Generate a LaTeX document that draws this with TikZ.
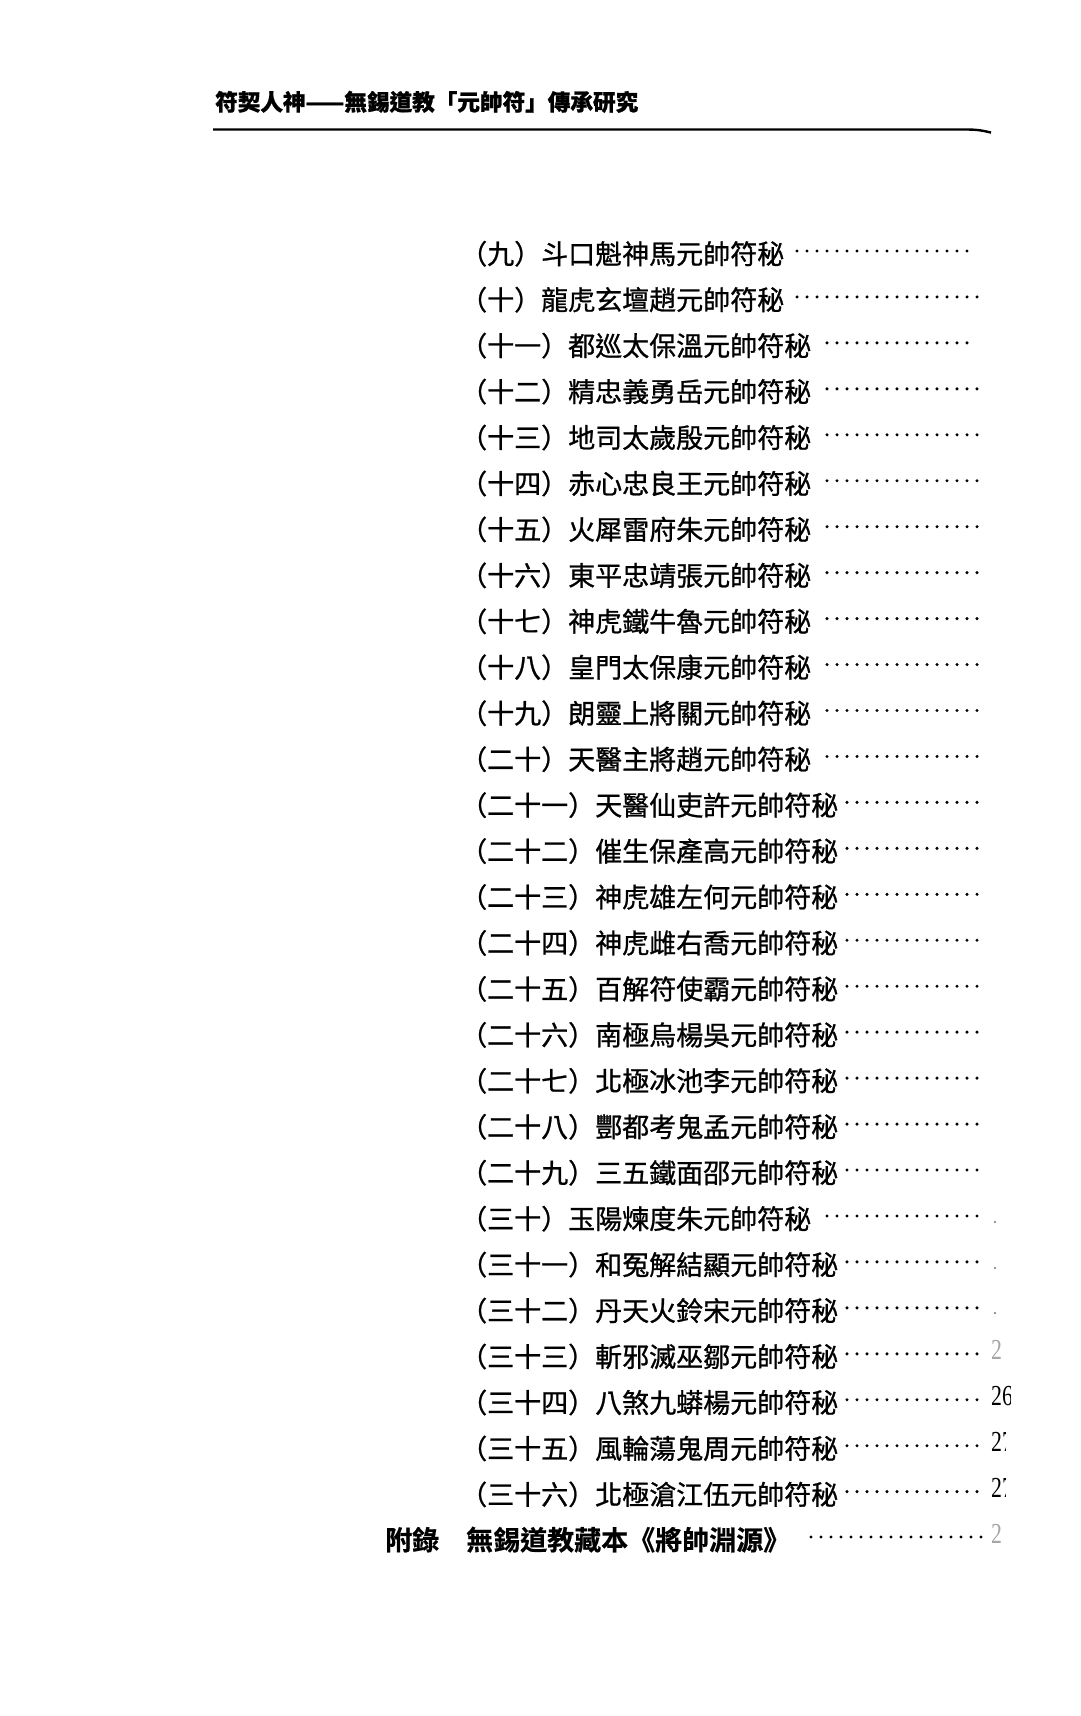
\documentclass[tikz,border=0pt]{standalone}
\usepackage{fontspec}
\newfontfamily\cjk[FakeBold=0.9]{Noto Sans CJK TC}
\newfontfamily\cjkb[FakeBold=0.6]{Noto Sans CJK TC Bold}
\newfontfamily\numfont{Liberation Serif}
\begin{document}
\begin{tikzpicture}[x=1pt,y=-1pt,
  entry/.style={anchor=base west, inner sep=0pt, font=\cjk\fontsize{27}{27}\selectfont},
  appentry/.style={anchor=base west, inner sep=0pt, font=\cjkb\fontsize{27}{27}\selectfont},
  headtext/.style={anchor=base west, inner sep=0pt, font=\cjk\bfseries\fontsize{22.6}{22.6}\selectfont},
  leader/.style={line width=3.4pt, line cap=round, dash pattern=on 0pt off 10pt},
  pnum/.style={anchor=base west, inner sep=0pt, font=\numfont\fontsize{29}{29}\selectfont},
  faint/.style={pnum, text=black!35}
]
\useasboundingbox (0,0) rectangle (1080,1716);
\fill[white] (0,0) rectangle (1080,1716);

% running head
\node[headtext] (head) at (215,110.5) {符契人神——無錫道教「元帥符」傳承研究};
\draw[line width=2.4pt] (213,129.5) -- (966,129.5) .. controls (978,129.5) and (984,130.8) .. (991,132.6);

% entries
\foreach \i/\t/\s/\e in {
 0/{（九）斗口魁神馬元帥符秘}/797/977,
 1/{（十）龍虎玄壇趙元帥符秘}/797/982,
 2/{（十一）都巡太保溫元帥符秘}/827/977,
 3/{（十二）精忠義勇岳元帥符秘}/827/984,
 4/{（十三）地司太歲殷元帥符秘}/827/982,
 5/{（十四）赤心忠良王元帥符秘}/827/982,
 6/{（十五）火犀雷府朱元帥符秘}/827/982,
 7/{（十六）東平忠靖張元帥符秘}/827/982,
 8/{（十七）神虎鐵牛魯元帥符秘}/827/982,
 9/{（十八）皇門太保康元帥符秘}/827/982,
 10/{（十九）朗靈上將關元帥符秘}/827/982,
 11/{（二十）天醫主將趙元帥符秘}/827/982,
 12/{（二十一）天醫仙吏許元帥符秘}/847/982,
 13/{（二十二）催生保產高元帥符秘}/847/982,
 14/{（二十三）神虎雄左何元帥符秘}/847/982,
 15/{（二十四）神虎雌右喬元帥符秘}/847/982,
 16/{（二十五）百解符使霸元帥符秘}/847/982,
 17/{（二十六）南極烏楊吳元帥符秘}/847/982,
 18/{（二十七）北極冰池李元帥符秘}/847/982,
 19/{（二十八）酆都考鬼孟元帥符秘}/847/982,
 20/{（二十九）三五鐵面邵元帥符秘}/847/982,
 21/{（三十）玉陽煉度朱元帥符秘}/827/985,
 22/{（三十一）和冤解結顯元帥符秘}/847/985,
 23/{（三十二）丹天火鈴宋元帥符秘}/847/985,
 24/{（三十三）斬邪滅巫鄒元帥符秘}/847/985,
 25/{（三十四）八煞九蟒楊元帥符秘}/847/985,
 26/{（三十五）風輪蕩鬼周元帥符秘}/847/985,
 27/{（三十六）北極滄江伍元帥符秘}/847/985}
{
  \pgfmathsetmacro\yc{254+45.95*\i}
  \node[entry] (e\i) at (460,\yc+10) {\t};
  \draw[leader] (\s,\yc-3) -- (\e,\yc-3);
}

% appendix line
\node[appentry] (app) at (385,1550) {附錄　無錫道教藏本《將帥淵源》};
\draw[leader] (811,1537) -- (985,1537);

% page numbers cut off at the edge of the scan
\begin{scope}
\clip (985,0) rectangle (1010,1716);
\node[faint] (p33) at (991,1359) {\scalebox{0.75}[1]{2}};
\node[pnum] (p34) at (991,1405) {\scalebox{0.75}[1]{26}};
\node[faint] (p37) at (991,1543) {\scalebox{0.75}[1]{2}};
\fill[black!55] (995,1222) circle (1.1);
\fill[black!55] (995,1268) circle (1.1);
\fill[black!55] (995,1313) circle (1.1);
\end{scope}
\begin{scope}
\clip (985,0) rectangle (1005,1716);
\node[pnum] (p35) at (991,1451) {\scalebox{0.75}[1]{27}};
\node[pnum] (p36) at (991,1497) {\scalebox{0.75}[1]{27}};
\end{scope}
\end{tikzpicture}
\end{document}
